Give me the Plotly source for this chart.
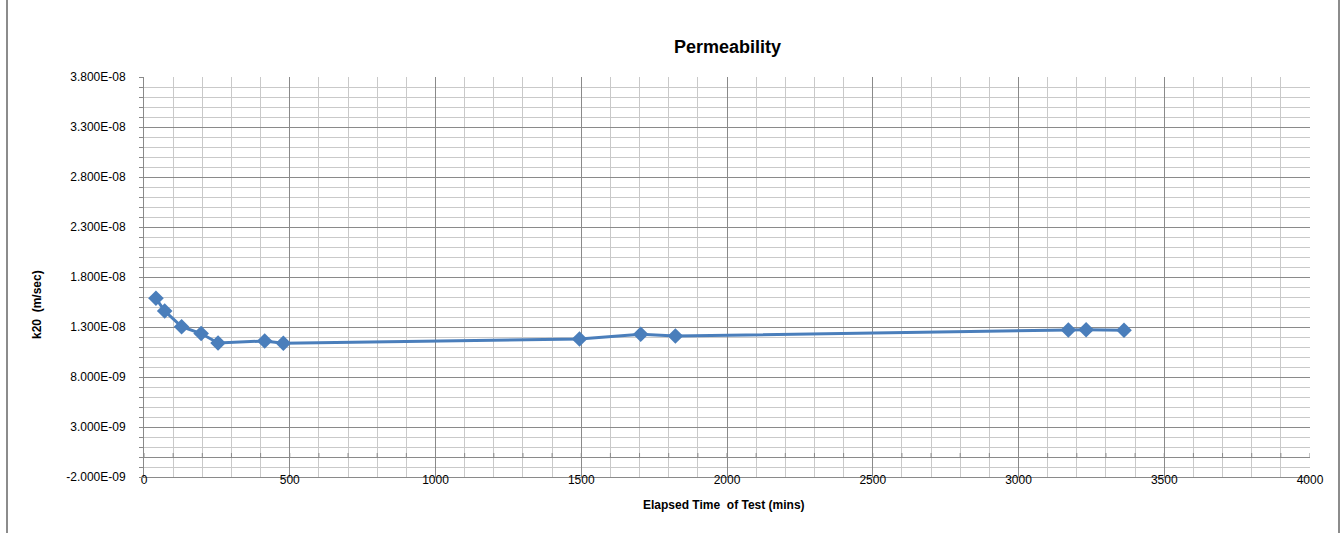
import plotly.graph_objects as go

# Elapsed test time (minutes) and measured permeability k20 (m/sec)
elapsed_mins = [41, 71, 129, 196, 254, 414, 478, 1494, 1704, 1823, 3171, 3232, 3362]
k20_values = [1.587e-08, 1.460e-08, 1.303e-08, 1.235e-08, 1.140e-08, 1.160e-08, 1.137e-08,
              1.180e-08, 1.227e-08, 1.210e-08, 1.270e-08, 1.272e-08, 1.268e-08]

# Axis ticks
y_tick_vals = [-2e-09, 3e-09, 8e-09, 1.3e-08, 1.8e-08, 2.3e-08, 2.8e-08, 3.3e-08, 3.8e-08]
y_tick_text = ["-2.000E-09", "3.000E-09", "8.000E-09", "1.300E-08", "1.800E-08",
               "2.300E-08", "2.800E-08", "3.300E-08", "3.800E-08"]
x_tick_vals = [0, 500, 1000, 1500, 2000, 2500, 3000, 3500, 4000]
x_minor_step = 100

W, H = 1344, 533
L, R, T, B = 144, 34, 77, 56
plot_w, plot_h = W - L - R, H - T - B


def px_to_paper_x(px):
    return (px - L) / plot_w


def px_to_paper_y(py):
    return (H - B - py) / plot_h


MAJOR = "#8a8a8a"
MINOR = "#c9c9c9"
LINE_BLUE = "#4a7ebb"
FONT = "Liberation Sans, Arial, sans-serif"

fig = go.Figure()
fig.add_trace(go.Scatter(
    x=elapsed_mins, y=k20_values, mode="lines+markers",
    line=dict(color=LINE_BLUE, width=3),
    marker=dict(symbol="diamond", size=12, color=LINE_BLUE),
    showlegend=False, hoverinfo="x+y",
))

# small tick marks on the horizontal axis where it crosses y = 0
shapes = []
for xv in range(0, 4001, x_minor_step):
    shapes.append(dict(type="line", xref="x", yref="y", ysizemode="pixel", yanchor=0,
                       x0=xv, x1=xv, y0=0, y1=4, line=dict(color=MAJOR, width=1)))
# chart frame sides
for fx in (px_to_paper_x(7), px_to_paper_x(1339)):
    shapes.append(dict(type="line", xref="paper", yref="paper",
                       x0=fx, x1=fx, y0=px_to_paper_y(545), y1=px_to_paper_y(-5),
                       line=dict(color="#8c8c8c", width=2)))

fig.update_layout(
    width=W, height=H,
    margin=dict(l=L, r=R, t=T, b=B),
    paper_bgcolor="white", plot_bgcolor="white",
    font=dict(family=FONT, size=12, color="#000000"),
    shapes=shapes,
    annotations=[
        dict(text="<b>Permeability</b>", xref="paper", yref="paper",
             x=0.5, y=px_to_paper_y(47), xanchor="center", yanchor="middle",
             showarrow=False, font=dict(size=18, family=FONT, color="#000")),
        dict(text="<b>k20  (m/sec)</b>", xref="paper", yref="paper",
             x=px_to_paper_x(37), y=px_to_paper_y(305), xanchor="center", yanchor="middle",
             textangle=-90, showarrow=False,
             font=dict(size=12, family=FONT, color="#000")),
        dict(text="<b>Elapsed Time  of Test (mins)</b>", xref="paper", yref="paper",
             x=px_to_paper_x(724), y=px_to_paper_y(505), xanchor="center", yanchor="middle",
             showarrow=False, font=dict(size=12, family=FONT, color="#000")),
    ],
)

fig.update_xaxes(
    range=[0, 4000], tickmode="array", tickvals=x_tick_vals,
    ticktext=[str(v) for v in x_tick_vals],
    showgrid=True, gridcolor=MAJOR, gridwidth=1,
    minor=dict(dtick=x_minor_step, tick0=0, showgrid=True, gridcolor=MINOR, gridwidth=1),
    showline=True, linecolor=MAJOR, linewidth=1,
    ticks="", zeroline=False, ticklabelstandoff=-8,
    tickfont=dict(size=12, family=FONT),
)
fig.update_yaxes(
    range=[-2e-09, 3.8e-08], tickmode="array", tickvals=y_tick_vals, ticktext=y_tick_text,
    showgrid=True, gridcolor=MAJOR, gridwidth=1,
    minor=dict(dtick=1e-09, tick0=-2e-09, showgrid=True, gridcolor=MINOR, gridwidth=1,
               ticks="outside", ticklen=4, tickcolor=MAJOR),
    ticks="outside", ticklen=4, tickcolor=MAJOR,
    showline=True, linecolor=MAJOR, linewidth=1,
    zeroline=True, zerolinecolor=MAJOR, zerolinewidth=1,
    ticklabelstandoff=11, tickfont=dict(size=12, family=FONT),
)

fig.write_html("out.html")
